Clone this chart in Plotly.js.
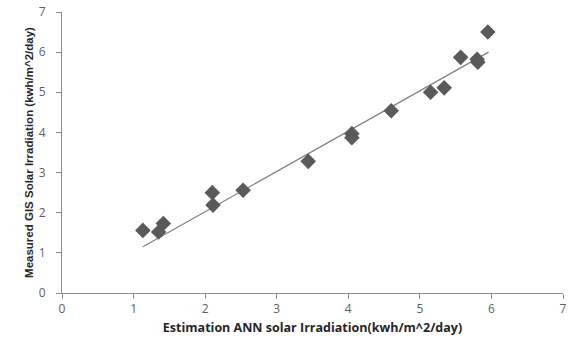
<!DOCTYPE html>
<html>
<head>
<meta charset="utf-8">
<script src="https://cdn.plot.ly/plotly-3.0.1.min.js"></script>
<style>html,body{margin:0;padding:0;background:#fff;}#chart{width:572px;height:340px;}</style>
</head>
<body>
<div id="chart"></div>
<script>
// Estimated ANN solar irradiation (x) vs measured GIS solar irradiation (y)
const estimatedANN = [1.13, 1.35, 1.415, 2.10, 2.11, 2.53, 3.44, 4.05, 4.05, 4.60, 5.15, 5.34, 5.57, 5.80, 5.81, 5.95];
const measuredGIS  = [1.56, 1.52, 1.73, 2.50, 2.19, 2.56, 3.28, 3.97, 3.87, 4.54, 5.00, 5.11, 5.87, 5.82, 5.75, 6.50];
// Linear trendline endpoints (as drawn in the reference)
const trendX = [1.13, 5.96];
const trendY = [1.15, 6.0];
const tickVals = [0, 1, 2, 3, 4, 5, 6, 7];

const axisCommon = {
  range: [0, 7],
  tickvals: tickVals,
  ticktext: tickVals.map(String),
  showgrid: false,
  zeroline: false,
  showline: true,
  linecolor: '#8c8c8c',
  linewidth: 1,
  ticks: 'outside',
  ticklen: 5,
  tickcolor: '#8c8c8c',
  tickfont: {family: 'Open Sans, Liberation Sans, sans-serif', size: 12, color: '#5f5f5f'},
  fixedrange: true
};

const data = [
  {
    x: trendX, y: trendY, type: 'scatter', mode: 'lines',
    line: {color: '#7f7f7f', width: 1.2}, hoverinfo: 'skip', showlegend: false
  },
  {
    x: estimatedANN, y: measuredGIS, type: 'scatter', mode: 'markers',
    marker: {symbol: 'diamond', size: 12, color: '#5a5a5a', line: {width: 0}},
    showlegend: false
  }
];

const layout = {
  width: 572, height: 340,
  margin: {l: 62, r: 9, t: 12, b: 47},
  paper_bgcolor: '#ffffff', plot_bgcolor: '#ffffff',
  xaxis: Object.assign({}, axisCommon, {
    title: {text: 'Estimation ANN solar Irradiation(kwh/m^2/day)', standoff: 6,
      font: {family: 'Open Sans, Liberation Sans, sans-serif', size: 12.5, color: '#262626', weight: 'bold'}}
  }),
  yaxis: Object.assign({}, axisCommon, {
    ticklabelstandoff: 8,
    title: {text: 'Measured GIS Solar Irradiation (kwh/m^2/day)', standoff: 2,
      font: {family: 'Liberation Sans Narrow, Liberation Sans, sans-serif', size: 11.5, color: '#262626', weight: 'bold'}}
  })
};

Plotly.newPlot('chart', data, layout, {displayModeBar: false, staticPlot: true});
</script>
</body>
</html>
